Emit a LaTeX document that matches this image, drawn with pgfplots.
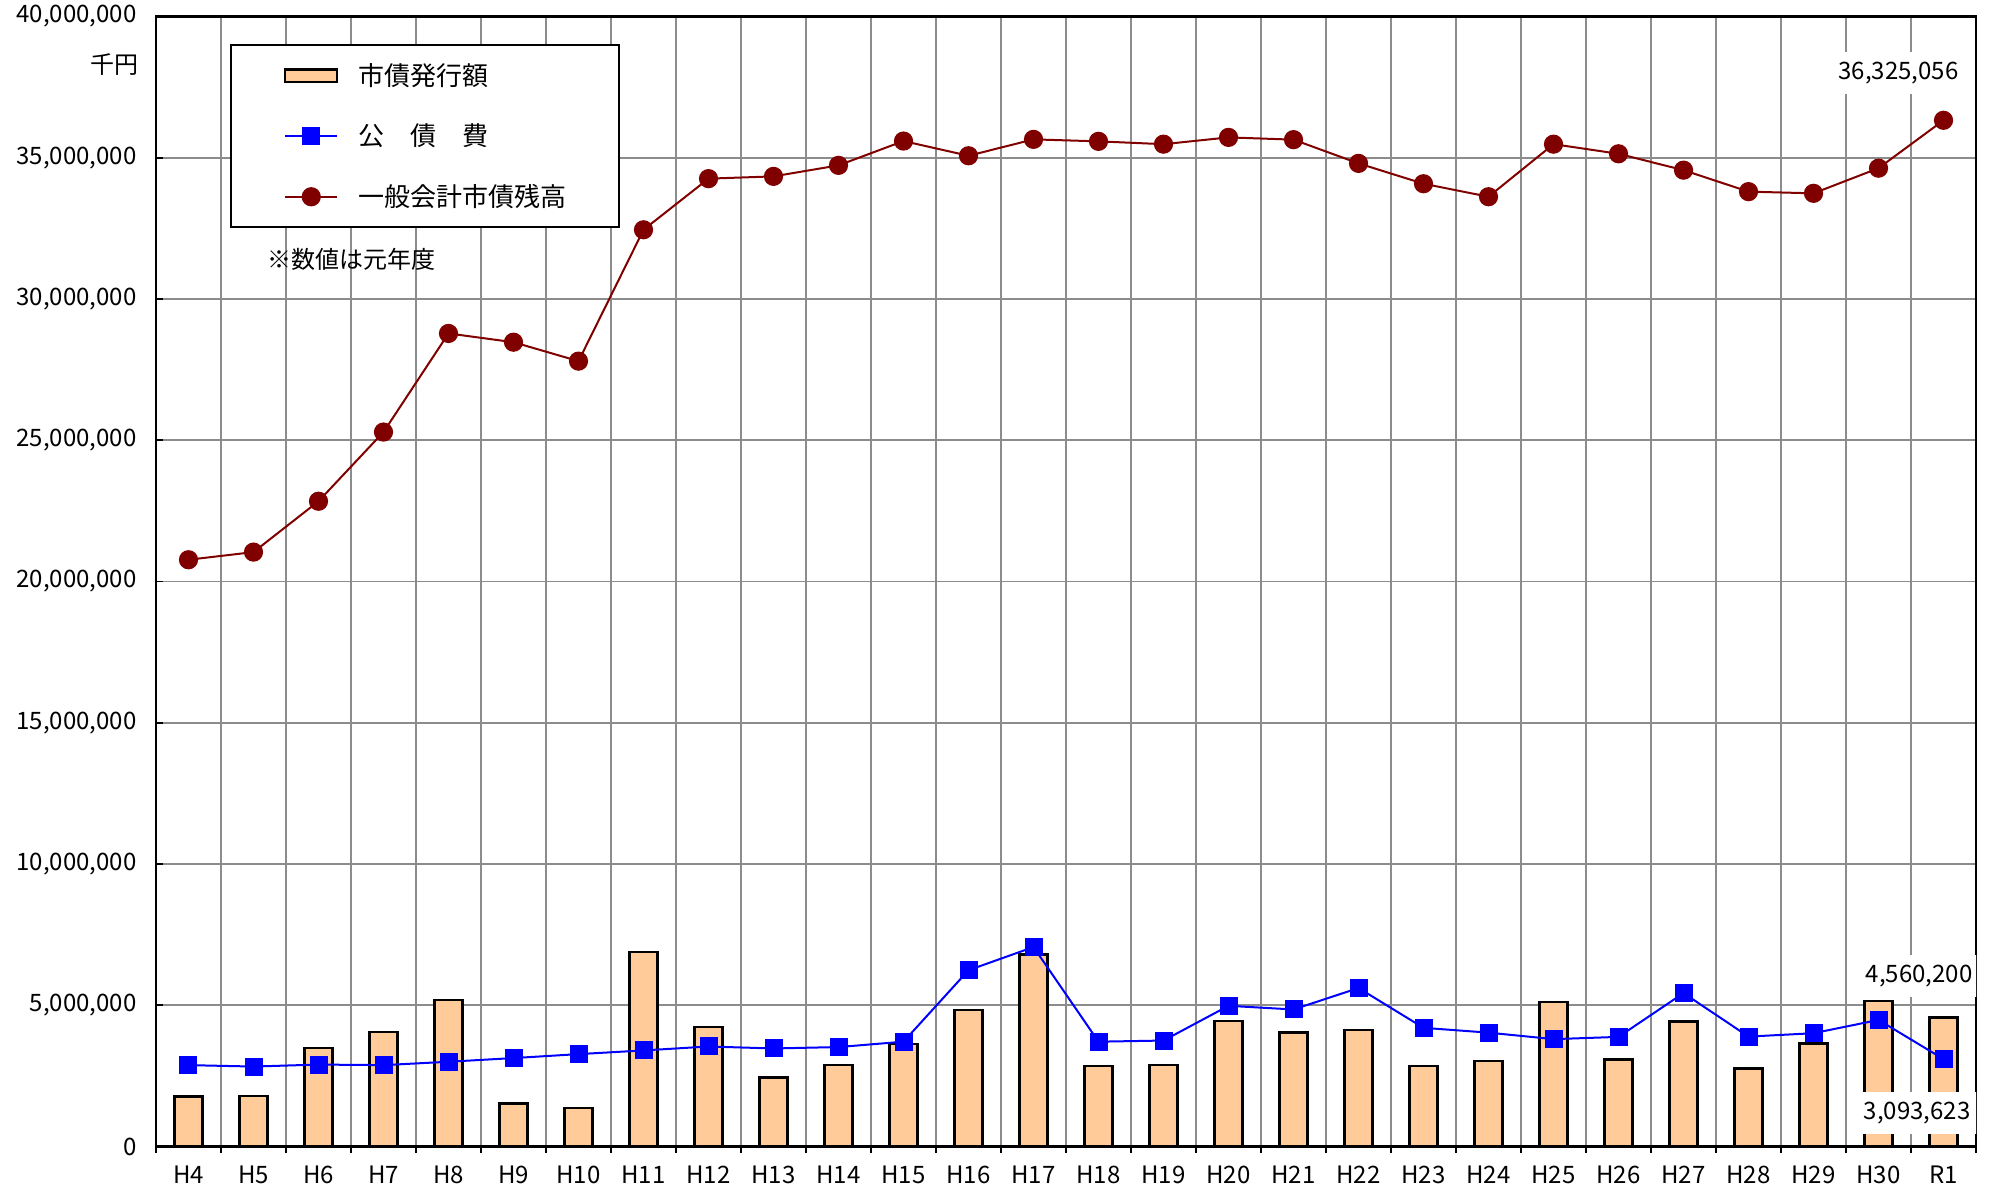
\documentclass[border=0pt]{standalone}
\usepackage{fontspec}
\setmainfont{Noto Sans CJK JP}
\usepackage{pgfplots}
\pgfplotsset{compat=1.18}
\definecolor{barfill}{HTML}{FFCC99}
\definecolor{darkred}{HTML}{800000}
\definecolor{gridgray}{HTML}{8C8C8C}
\newcommand{\tf}{\fontsize{12}{14}\selectfont}
\newcommand{\lf}{\fontsize{13}{15}\selectfont}

\begin{document}
\begin{tikzpicture}
\begin{axis}[
  name=ax, at={(0,0)}, anchor=south west,
  width=910pt, height=565pt, scale only axis,
  xmin=-0.5, xmax=27.5, ymin=0, ymax=40000000,
  xtick={0,...,27},
  xticklabels={H4,H5,H6,H7,H8,H9,H10,H11,H12,H13,H14,H15,H16,H17,H18,H19,H20,H21,H22,H23,H24,H25,H26,H27,H28,H29,H30,R1},
  minor xtick={-0.5,0.5,...,27.5},
  ytick={0,5000000,10000000,15000000,20000000,25000000,30000000,35000000,40000000},
  yticklabels={0,{5,000,000},{10,000,000},{15,000,000},{20,000,000},{25,000,000},{30,000,000},{35,000,000},{40,000,000}},
  tick pos=left,
  xmajorgrids=false, xminorgrids=true, ymajorgrids=true,
  grid style={gridgray, line width=0.9pt},
  minor grid style={gridgray, line width=0.9pt},
  major grid style={gridgray, line width=0.9pt},
  axis line style={black, line width=1.2pt},
  major tick length=3.5pt, minor tick length=3.3pt,
  every major x tick/.append style={draw opacity=0},
  every minor x tick/.append style={black, line width=0.9pt, yshift=-3.3pt},
  every major y tick/.append style={black, line width=0.9pt},
  xticklabel style={font=\tf, yshift=-6pt},
  yticklabel style={font=\tf, xshift=-6.2pt},
  legend style={at={(0.0407,0.9757)}, anchor=north west, draw=black, line width=1pt, fill=white,
    inner xsep=26.5pt, inner ysep=10.4pt, row sep=20.5pt, column sep=10pt, font=\lf,
    nodes={inner sep=0pt, text height=9.8pt, text depth=0pt, anchor=base west}},
  legend cell align=left,
]
\addplot[ybar, bar width=14pt, fill=barfill, draw=black, line width=1.2pt,
  legend image code/.code={\draw[fill=barfill,draw=black,line width=1.2pt] (0pt,1.8pt) rectangle (26pt,8pt);}]
  coordinates {
  (0,1770000) (1,1790000) (2,3480000) (3,4050000) (4,5190000) (5,1520000) (6,1360000)
  (7,6890000) (8,4220000) (9,2440000) (10,2880000) (11,3620000) (12,4840000) (13,6800000)
  (14,2850000) (15,2880000) (16,4440000) (17,4030000) (18,4130000) (19,2850000) (20,3030000)
  (21,5120000) (22,3080000) (23,4420000) (24,2760000) (25,3640000) (26,5150000) (27,4560200)};
\addlegendentry{市債発行額}
\addplot[blue, line width=1pt, mark=square*, mark size=4pt, mark options={fill=blue, draw=blue},
  legend image code/.code={\draw[blue,line width=1pt,mark=square*,mark size=4pt,mark options={fill=blue},mark indices={2}] plot coordinates {(0pt,4.9pt) (13pt,4.9pt) (26pt,4.9pt)};}]
  coordinates {
  (0,2880000) (1,2830000) (2,2900000) (3,2880000) (4,3000000) (5,3130000) (6,3270000)
  (7,3400000) (8,3540000) (9,3470000) (10,3520000) (11,3710000) (12,6240000) (13,7060000)
  (14,3710000) (15,3750000) (16,4980000) (17,4850000) (18,5610000) (19,4200000) (20,4030000)
  (21,3800000) (22,3880000) (23,5430000) (24,3890000) (25,4010000) (26,4480000) (27,3093623)};
\addlegendentry{公　債　費}
\addplot[darkred, line width=1pt, mark=*, mark size=4.3pt, mark options={fill=darkred, draw=darkred},
  legend image code/.code={\draw[darkred,line width=1pt,mark=*,mark size=4.3pt,mark options={fill=darkred},mark indices={2}] plot coordinates {(0pt,4.9pt) (13pt,4.9pt) (26pt,4.9pt)};}]
  coordinates {
  (0,20770000) (1,21040000) (2,22840000) (3,25290000) (4,28780000) (5,28470000) (6,27800000)
  (7,32450000) (8,34260000) (9,34340000) (10,34730000) (11,35590000) (12,35070000) (13,35650000)
  (14,35580000) (15,35480000) (16,35720000) (17,35640000) (18,34800000) (19,34080000) (20,33620000)
  (21,35480000) (22,35140000) (23,34560000) (24,33800000) (25,33740000) (26,34630000) (27,36325056)};
\addlegendentry{一般会計市債残高}
\node[fill=white, inner xsep=3.5pt, inner ysep=5pt, font=\tf] at (rel axis cs:0.9574,0.95) {36,325,056};
\node[fill=white, inner xsep=3.5pt, inner ysep=5pt, font=\tf] at (rel axis cs:0.9687,0.1509) {4,560,200};
\node[fill=white, inner xsep=3.5pt, inner ysep=5pt, font=\tf] at (rel axis cs:0.9676,0.0296) {3,093,623};
\end{axis}
\node[anchor=east, inner sep=0pt, font=\tf] at ([xshift=-8.55pt,yshift=-24.25pt]ax.north west) {千円};
\node[anchor=west, inner sep=0pt, font=\tf] at ([xshift=55.7pt,yshift=-121.45pt]ax.north west) {※数値は元年度};
\pgfresetboundingbox
\path[use as bounding box] ([xshift=-78pt,yshift=-22.75pt]ax.south west) rectangle ([xshift=7pt,yshift=8.25pt]ax.north east);
\end{tikzpicture}
\end{document}
